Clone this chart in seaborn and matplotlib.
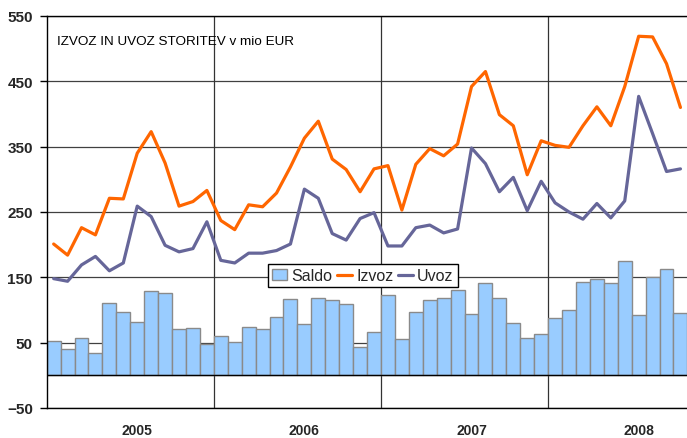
import numpy as np
import pandas as pd
import seaborn as sns
import matplotlib.pyplot as plt

leta = ['2005', '2006', '2007', '2008']

izvoz = [201, 184, 226, 215, 271, 270, 340, 373, 325, 259, 266, 283,
         237, 223, 261, 258, 279, 319, 363, 389, 331, 315, 281, 316,
         321, 253, 323, 347, 336, 354, 442, 465, 399, 382, 307, 359,
         352, 349, 382, 411, 382, 442, 519, 518, 477, 410]
uvoz = [148, 144, 169, 182, 160, 172, 259, 243, 199, 189, 194, 235,
        176, 172, 187, 187, 191, 201, 285, 271, 217, 207, 240, 249,
        198, 198, 226, 230, 218, 224, 348, 324, 281, 303, 252, 297,
        264, 250, 239, 263, 241, 267, 427, 370, 312, 316]
saldo = [53, 40, 57, 34, 111, 97, 82, 129, 126, 71, 73, 48,
         60, 51, 74, 71, 89, 117, 78, 118, 115, 109, 43, 67,
         123, 56, 97, 116, 119, 130, 94, 141, 119, 80, 57, 63,
         88, 100, 143, 147, 142, 175, 92, 150, 163, 96]

mesec = np.arange(len(saldo))
df = pd.DataFrame({'mesec': mesec, 'Saldo': saldo, 'Izvoz': izvoz, 'Uvoz': uvoz})

sns.set_style('white')
plt.rcParams['font.family'] = ['Liberation Sans', 'DejaVu Sans']

fig = plt.figure(figsize=(6.87, 4.39), dpi=100)
ax = fig.add_axes([46.7 / 687, 30 / 439, 640.3 / 687, 392 / 439])

sns.barplot(data=df, x='mesec', y='Saldo', color='#99CCFF', saturation=1,
            width=1.0, edgecolor='#8a8a8a', linewidth=1, label='Saldo', ax=ax, zorder=2)
sns.lineplot(data=df, x='mesec', y='Izvoz', color='#FF6600', lw=2.3, label='Izvoz', ax=ax, zorder=3)
sns.lineplot(data=df, x='mesec', y='Uvoz', color='#666699', lw=2.3, label='Uvoz', ax=ax, zorder=3)

ax.set_xlim(-0.5, 45.47)
ax.set_ylim(-50, 550)
ax.set_yticks(np.arange(-50, 551, 100))
ax.yaxis.grid(True, color='#404040', lw=0.9)
ax.set_axisbelow(True)
for k in range(1, len(leta)):
    ax.axvline(12 * k - 0.5, color='#333333', lw=0.9, zorder=1)
ax.axhline(0, color='black', lw=1, zorder=2.5)

ax.set_xticks([12 * k + 6 for k in range(len(leta))])
ax.set_xticklabels(leta, fontsize=10, fontweight='bold')
ax.tick_params(axis='x', length=0, pad=11)
ax.tick_params(axis='y', left=True, length=5, width=1, color='black', labelsize=11, pad=5)
for t in ax.get_yticklabels():
    t.set_fontweight('bold')
ax.set_xlabel('')
ax.set_ylabel('')

for s in ['left', 'top', 'bottom']:
    ax.spines[s].set_visible(True)
    ax.spines[s].set_color('black')
    ax.spines[s].set_linewidth(1)
ax.spines['right'].set_visible(False)

ax.text(0.016, 0.935, 'IZVOZ IN UVOZ STORITEV v mio EUR', transform=ax.transAxes,
        fontsize=9.7, va='center', ha='left', color='black')

h, l = ax.get_legend_handles_labels()
order = [l.index(n) for n in ['Saldo', 'Izvoz', 'Uvoz']]
leg = ax.legend([h[i] for i in order], ['Saldo', 'Izvoz', 'Uvoz'], ncol=3,
                loc='upper left', bbox_to_anchor=(0.3456, 0.367), borderaxespad=0,
                fontsize=11.5, frameon=True, fancybox=False, framealpha=1,
                edgecolor='black', handlelength=0.95, handletextpad=0.25,
                columnspacing=0.3, borderpad=0.25)
leg.get_frame().set_linewidth(1)
leg.set_zorder(5)

fig.savefig('out.png', dpi=100)
